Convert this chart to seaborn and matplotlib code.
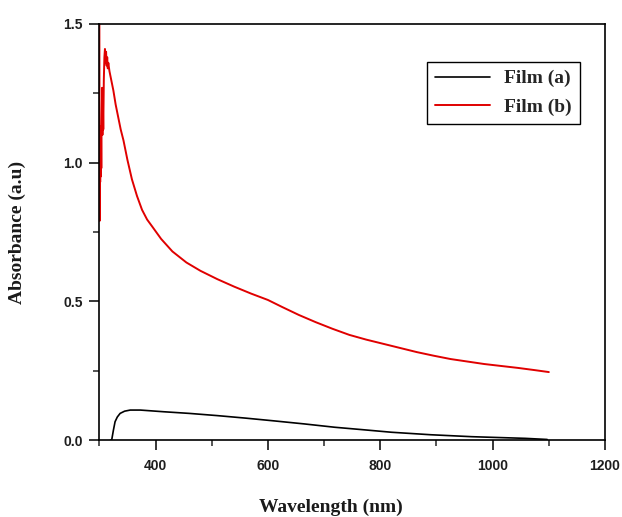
import numpy as np
import pandas as pd
import matplotlib
matplotlib.use('Agg')
import matplotlib.pyplot as plt
import seaborn as sns
from matplotlib.ticker import MultipleLocator

# Film (a) - black curve
wl_a = [320, 322, 325, 328, 332, 337, 345, 355, 373, 414, 460, 510, 560, 611,
        665, 719, 770, 820, 890, 963, 1010, 1058, 1097]
abs_a = [0.0, 0.0, 0.035, 0.066, 0.083, 0.096, 0.104, 0.108, 0.108, 0.102, 0.096,
         0.088, 0.079, 0.069, 0.058, 0.046, 0.037, 0.028, 0.019, 0.012, 0.009,
         0.006, 0.002]

# Film (b) - red curve
wl_b = [300, 300.5, 301, 301.5, 302, 302.5, 303, 303.5, 304, 305, 305.5, 306, 307,
        308, 309, 310, 311, 312, 313, 314, 315, 316, 318, 320, 322, 325, 329, 333,
        338, 343, 350, 358, 367, 376, 385, 394, 410, 430, 455, 480, 510, 540, 570,
        600, 625, 655, 685, 715, 745, 775, 805, 835, 865, 895, 925, 955, 985, 1015,
        1045, 1075, 1100]
abs_b = [1.62, 0.79, 1.12, 0.93, 1.13, 0.95, 1.10, 0.98, 1.14, 1.27, 1.10, 1.26, 1.12,
         1.30, 1.38, 1.41, 1.36, 1.40, 1.35, 1.38, 1.34, 1.36, 1.33, 1.31, 1.29, 1.26,
         1.21, 1.17, 1.12, 1.08, 1.01, 0.94, 0.88, 0.83, 0.795, 0.77, 0.725, 0.68,
         0.64, 0.61, 0.58, 0.553, 0.528, 0.505, 0.48, 0.451, 0.425, 0.401, 0.379,
         0.362, 0.347, 0.332, 0.317, 0.304, 0.292, 0.283, 0.274, 0.267, 0.26, 0.252,
         0.245]

df_a = pd.DataFrame({'Wavelength': wl_a, 'Absorbance': abs_a})
df_b = pd.DataFrame({'Wavelength': wl_b, 'Absorbance': abs_b})

sns.set_style('ticks')
plt.rcParams['font.family'] = ['Liberation Sans', 'DejaVu Sans']

fig = plt.figure(figsize=(6.22, 5.17), dpi=100)
ax = fig.add_axes([0.1597, 0.1489, 0.8130, 0.8047])

sns.lineplot(data=df_a, x='Wavelength', y='Absorbance', color='black', lw=1.2,
             label='Film (a)', estimator=None, sort=False, ax=ax)
sns.lineplot(data=df_b, x='Wavelength', y='Absorbance', color='#e00000', lw=1.4,
             label='Film (b)', estimator=None, sort=False, ax=ax)

ax.set_xlim(300, 1200)
ax.set_ylim(0, 1.5)
ax.xaxis.set_major_locator(MultipleLocator(200))
ax.xaxis.set_minor_locator(MultipleLocator(100))
ax.yaxis.set_major_locator(MultipleLocator(0.5))
ax.yaxis.set_minor_locator(MultipleLocator(0.25))
ax.set_xticks([400, 600, 800, 1000, 1200])
ax.tick_params(which='major', direction='out', length=7, width=1.1,
               labelsize=10, colors='black', labelcolor='#1e1e1e')
ax.tick_params(axis='x', which='major', pad=7)
ax.tick_params(axis='y', which='major', pad=5)
ax.tick_params(which='minor', direction='out', length=4, width=1.1)
for lab in ax.get_xticklabels() + ax.get_yticklabels():
    lab.set_fontweight('bold')

for sp in ax.spines.values():
    sp.set_visible(True)
    sp.set_linewidth(1.2)
    sp.set_color('black')

ax.set_xlabel('Wavelength (nm)', fontsize=14, fontweight='bold',
              family='Liberation Serif', color='#1a1a1a')
ax.set_ylabel('Absorbance (a.u)', fontsize=14, fontweight='bold',
              family='Liberation Serif', color='#1a1a1a')
ax.xaxis.set_label_coords(0.458, -0.14)
ax.yaxis.set_label_coords(-0.145, 0.5)

leg = ax.legend(loc='upper right', bbox_to_anchor=(0.932, 0.880),
                bbox_transform=fig.transFigure, borderaxespad=0,
                frameon=True, fancybox=False, edgecolor='black', framealpha=1,
                handlelength=2.8, handletextpad=0.75, borderpad=0.4,
                labelspacing=0.55, prop={'family': 'Liberation Serif',
                                         'weight': 'bold', 'size': 14})
leg.get_frame().set_linewidth(1.0)

fig.savefig('out.png', dpi=100)
